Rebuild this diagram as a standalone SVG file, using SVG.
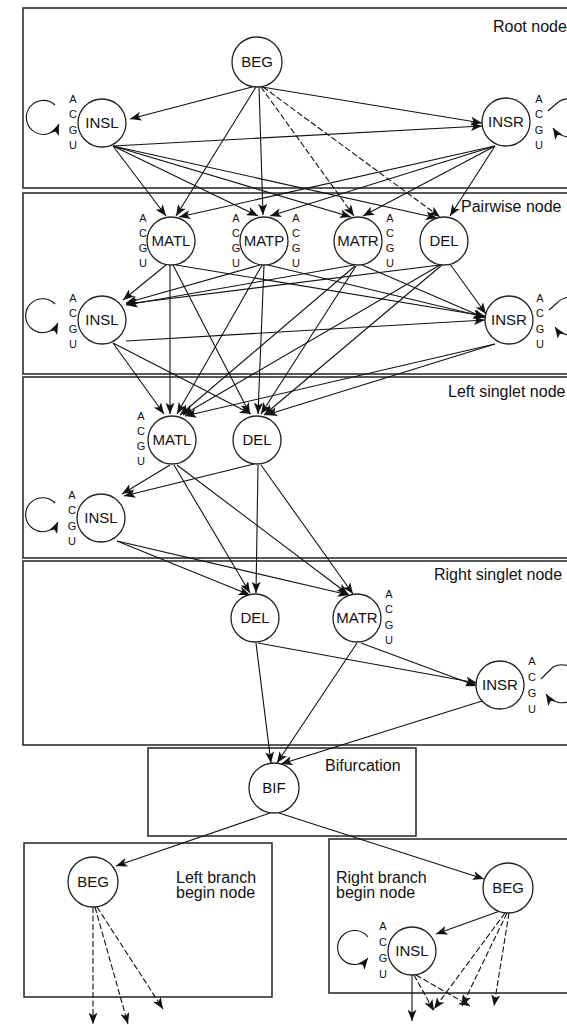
<svg xmlns="http://www.w3.org/2000/svg" width="567" height="1025" viewBox="0 0 567 1025">
  <style>
    .box { fill: none; stroke: #222; stroke-width: 1.5; }
    .st { fill: #fff; stroke: #222; stroke-width: 1.3; }
    .lbl { font-family: "Liberation Sans", Arial, sans-serif; font-size: 15px; fill: #111; text-anchor: middle; }
    .nt { font-family: "Liberation Sans", Arial, sans-serif; font-size: 11px; fill: #111; text-anchor: middle; }
    .sec { font-family: "Liberation Sans", Arial, sans-serif; font-size: 16px; fill: #111; }
    .e { stroke: #111; stroke-width: 1.1; fill: none; marker-end: url(#ah); }
    .d { stroke-dasharray: 6 2.5; }
    .loop { stroke: #111; stroke-width: 1.1; fill: none; marker-end: url(#ah); }
  </style>
  <defs>
    <marker id="ah" viewBox="0 0 10 8" markerWidth="12" markerHeight="9" refX="10" refY="4" orient="auto" markerUnits="userSpaceOnUse">
      <path d="M0,0 L10,4 L0,8 L2.5,4 z" fill="#111"/>
    </marker>
  </defs>
  <rect width="567" height="1025" fill="#fff"/>

  <!-- section frames -->
  <g id="sections">
    <rect class="box" x="23" y="8" width="560" height="180"/>
    <rect class="box" x="23" y="193" width="560" height="181"/>
    <rect class="box" x="23" y="377" width="560" height="181"/>
    <rect class="box" x="23" y="561" width="560" height="184"/>
    <rect class="box" x="148" y="748" width="268" height="88"/>
    <rect class="box" x="24" y="843" width="248" height="154"/>
    <rect class="box" x="329" y="839" width="260" height="154"/>
    <text class="sec" x="493" y="32">Root node</text>
    <text class="sec" x="461" y="212">Pairwise node</text>
    <text class="sec" x="448" y="397">Left singlet node</text>
    <text class="sec" x="434" y="580">Right singlet node</text>
    <text class="sec" x="325" y="771">Bifurcation</text>
    <text class="sec" x="176" y="883">Left branch</text>
    <text class="sec" x="176" y="898">begin node</text>
    <text class="sec" x="336" y="883">Right branch</text>
    <text class="sec" x="336" y="898">begin node</text>
  </g>

  <!-- transitions -->
  <g id="connectors">
    <!-- root node -->
    <line class="e" x1="252" y1="87" x2="130" y2="119"/>
    <line class="e" x1="262" y1="87" x2="482" y2="123"/>
    <line class="e" x1="113" y1="146" x2="482" y2="126"/>
    <line class="e" x1="256" y1="87" x2="176" y2="216"/>
    <line class="e" x1="259" y1="87" x2="263" y2="215"/>
    <line class="e d" x1="261" y1="87" x2="354" y2="216"/>
    <line class="e d" x1="263" y1="87" x2="440" y2="217"/>
    <line class="e" x1="113" y1="146" x2="166" y2="216"/>
    <line class="e" x1="113" y1="146" x2="258" y2="216"/>
    <line class="e" x1="113" y1="146" x2="351" y2="217"/>
    <line class="e" x1="113" y1="146" x2="437" y2="218"/>
    <line class="e" x1="495" y1="146" x2="179" y2="217"/>
    <line class="e" x1="495" y1="146" x2="270" y2="216"/>
    <line class="e" x1="495" y1="146" x2="363" y2="216"/>
    <line class="e" x1="495" y1="146" x2="450" y2="216"/>
    <path class="loop" d="M55,105 A17,17 0 1 0 59,124"/>
    <path class="loop" d="M548,111 L556,104 A19,19 0 1 1 553,128"/>

    <!-- pairwise node -->
    <line class="e" x1="166" y1="265" x2="123" y2="300"/>
    <line class="e" x1="260" y1="265" x2="126" y2="303"/>
    <line class="e" x1="354" y1="265" x2="126" y2="305"/>
    <line class="e" x1="440" y1="265" x2="126" y2="304"/>
    <line class="e" x1="176" y1="265" x2="485" y2="316"/>
    <line class="e" x1="268" y1="265" x2="485" y2="317"/>
    <line class="e" x1="362" y1="265" x2="485" y2="318"/>
    <line class="e" x1="450" y1="264" x2="486" y2="314"/>
    <line class="e" x1="126" y1="341" x2="485" y2="320"/>
    <line class="e" x1="170" y1="265" x2="170" y2="414"/>
    <line class="e" x1="262" y1="265" x2="177" y2="414"/>
    <line class="e" x1="355" y1="266" x2="180" y2="415"/>
    <line class="e" x1="440" y1="265" x2="183" y2="415"/>
    <line class="e" x1="113" y1="343" x2="164" y2="414"/>
    <line class="e" x1="495" y1="344" x2="185" y2="416"/>
    <line class="e" x1="173" y1="265" x2="250" y2="414"/>
    <line class="e" x1="264" y1="265" x2="258" y2="414"/>
    <line class="e" x1="356" y1="266" x2="261" y2="414"/>
    <line class="e" x1="442" y1="265" x2="264" y2="415"/>
    <line class="e" x1="113" y1="343" x2="251" y2="414"/>
    <line class="e" x1="495" y1="344" x2="266" y2="415"/>
    <path class="loop" d="M55,304 A17,17 0 1 0 58,323"/>
    <path class="loop" d="M549,310 L557,303 A19,19 0 1 1 555,327"/>

    <!-- left singlet node -->
    <line class="e" x1="170" y1="465" x2="122" y2="494"/>
    <line class="e" x1="254" y1="464" x2="124" y2="496"/>
    <line class="e" x1="174" y1="465" x2="250" y2="593"/>
    <line class="e" x1="177" y1="465" x2="348" y2="594"/>
    <line class="e" x1="258" y1="465" x2="256" y2="593"/>
    <line class="e" x1="261" y1="465" x2="353" y2="594"/>
    <line class="e" x1="117" y1="541" x2="250" y2="595"/>
    <line class="e" x1="117" y1="541" x2="349" y2="595"/>
    <path class="loop" d="M55,503 A17,17 0 1 0 58,522"/>

    <!-- right singlet node -->
    <line class="e" x1="258" y1="643" x2="477" y2="683"/>
    <line class="e" x1="361" y1="643" x2="477" y2="686"/>
    <line class="e" x1="256" y1="643" x2="271" y2="763"/>
    <line class="e" x1="357" y1="643" x2="277" y2="763"/>
    <line class="e" x1="482" y1="701" x2="281" y2="764"/>
    <path class="loop" d="M541,679 L553,667 A19,19 0 1 1 546,694"/>

    <!-- bifurcation -->
    <line class="e" x1="270" y1="813" x2="116" y2="866"/>
    <line class="e" x1="279" y1="813" x2="484" y2="879"/>

    <!-- left branch begin -->
    <line class="e d" x1="93" y1="907" x2="93" y2="1024"/>
    <line class="e d" x1="95" y1="907" x2="128" y2="1024"/>
    <line class="e d" x1="97" y1="907" x2="163" y2="1009"/>

    <!-- right branch begin -->
    <line class="e" x1="500" y1="911" x2="436" y2="934"/>
    <line class="e d" x1="505" y1="913" x2="434" y2="1009"/>
    <line class="e d" x1="507" y1="913" x2="462" y2="1006"/>
    <line class="e d" x1="509" y1="913" x2="494" y2="1006"/>
    <line class="e" x1="412" y1="975" x2="412" y2="1021"/>
    <line class="e d" x1="414" y1="975" x2="434" y2="1011"/>
    <line class="e d" x1="416" y1="975" x2="470" y2="1006"/>
    <path class="loop" d="M368,937 A17,17 0 1 0 368,958"/>
  </g>

  <!-- root node states -->
  <g id="root-BEG"><circle class="st" cx="257" cy="62" r="25"/><text class="lbl" x="257" y="67">BEG</text></g>
  <g id="root-INSL">
    <text class="nt" x="73" y="103">A</text><text class="nt" x="73" y="118">C</text><text class="nt" x="73" y="134">G</text><text class="nt" x="73" y="149">U</text>
    <circle class="st" cx="102" cy="123" r="24"/><text class="lbl" x="102" y="128">INSL</text>
  </g>
  <g id="root-INSR">
    <text class="nt" x="539" y="103">A</text><text class="nt" x="539" y="118">C</text><text class="nt" x="539" y="134">G</text><text class="nt" x="539" y="149">U</text>
    <circle class="st" cx="506" cy="122" r="24"/><text class="lbl" x="506" y="127">INSR</text>
  </g>

  <!-- pairwise node states -->
  <g id="pw-MATL">
    <text class="nt" x="143" y="222">A</text><text class="nt" x="143" y="237">C</text><text class="nt" x="143" y="252">G</text><text class="nt" x="143" y="267">U</text>
    <circle class="st" cx="171" cy="241" r="24"/><text class="lbl" x="171" y="246">MATL</text>
  </g>
  <g id="pw-MATP">
    <text class="nt" x="236" y="222">A</text><text class="nt" x="236" y="237">C</text><text class="nt" x="236" y="252">G</text><text class="nt" x="236" y="267">U</text>
    <text class="nt" x="296" y="222">A</text><text class="nt" x="296" y="237">C</text><text class="nt" x="296" y="252">G</text><text class="nt" x="296" y="267">U</text>
    <circle class="st" cx="264" cy="241" r="24"/><text class="lbl" x="264" y="246">MATP</text>
  </g>
  <g id="pw-MATR">
    <text class="nt" x="390" y="222">A</text><text class="nt" x="390" y="237">C</text><text class="nt" x="390" y="252">G</text><text class="nt" x="390" y="267">U</text>
    <circle class="st" cx="358" cy="241" r="24"/><text class="lbl" x="358" y="246">MATR</text>
  </g>
  <g id="pw-DEL"><circle class="st" cx="444" cy="241" r="24"/><text class="lbl" x="444" y="246">DEL</text></g>
  <g id="pw-INSL">
    <text class="nt" x="73" y="302">A</text><text class="nt" x="73" y="317">C</text><text class="nt" x="73" y="333">G</text><text class="nt" x="73" y="348">U</text>
    <circle class="st" cx="102" cy="320" r="24"/><text class="lbl" x="102" y="325">INSL</text>
  </g>
  <g id="pw-INSR">
    <text class="nt" x="540" y="302">A</text><text class="nt" x="540" y="317">C</text><text class="nt" x="540" y="333">G</text><text class="nt" x="540" y="348">U</text>
    <circle class="st" cx="509" cy="320" r="24"/><text class="lbl" x="509" y="325">INSR</text>
  </g>

  <!-- left singlet node states -->
  <g id="ls-MATL">
    <text class="nt" x="141" y="420">A</text><text class="nt" x="141" y="435">C</text><text class="nt" x="141" y="450">G</text><text class="nt" x="141" y="465">U</text>
    <circle class="st" cx="172" cy="440" r="24"/><text class="lbl" x="172" y="445">MATL</text>
  </g>
  <g id="ls-DEL"><circle class="st" cx="257" cy="440" r="24"/><text class="lbl" x="257" y="445">DEL</text></g>
  <g id="ls-INSL">
    <text class="nt" x="72" y="499">A</text><text class="nt" x="72" y="514">C</text><text class="nt" x="72" y="530">G</text><text class="nt" x="72" y="545">U</text>
    <circle class="st" cx="101" cy="518" r="24"/><text class="lbl" x="101" y="523">INSL</text>
  </g>

  <!-- right singlet node states -->
  <g id="rs-DEL"><circle class="st" cx="255" cy="618" r="24"/><text class="lbl" x="255" y="623">DEL</text></g>
  <g id="rs-MATR">
    <text class="nt" x="389" y="598">A</text><text class="nt" x="389" y="613">C</text><text class="nt" x="389" y="629">G</text><text class="nt" x="389" y="644">U</text>
    <circle class="st" cx="357" cy="618" r="24"/><text class="lbl" x="357" y="623">MATR</text>
  </g>
  <g id="rs-INSR">
    <text class="nt" x="532" y="665">A</text><text class="nt" x="532" y="681">C</text><text class="nt" x="532" y="697">G</text><text class="nt" x="532" y="713">U</text>
    <circle class="st" cx="500" cy="685" r="24"/><text class="lbl" x="500" y="690">INSR</text>
  </g>

  <!-- bifurcation and branch begin states -->
  <g id="bif-BIF"><circle class="st" cx="274" cy="788" r="25"/><text class="lbl" x="274" y="793">BIF</text></g>
  <g id="lb-BEG"><circle class="st" cx="93" cy="882" r="25"/><text class="lbl" x="93" y="887">BEG</text></g>
  <g id="rb-BEG"><circle class="st" cx="508" cy="888" r="25"/><text class="lbl" x="508" y="893">BEG</text></g>
  <g id="rb-INSL">
    <text class="nt" x="383" y="930">A</text><text class="nt" x="383" y="946">C</text><text class="nt" x="383" y="962">G</text><text class="nt" x="383" y="978">U</text>
    <circle class="st" cx="412" cy="951" r="24"/><text class="lbl" x="412" y="956">INSL</text>
  </g>
</svg>
